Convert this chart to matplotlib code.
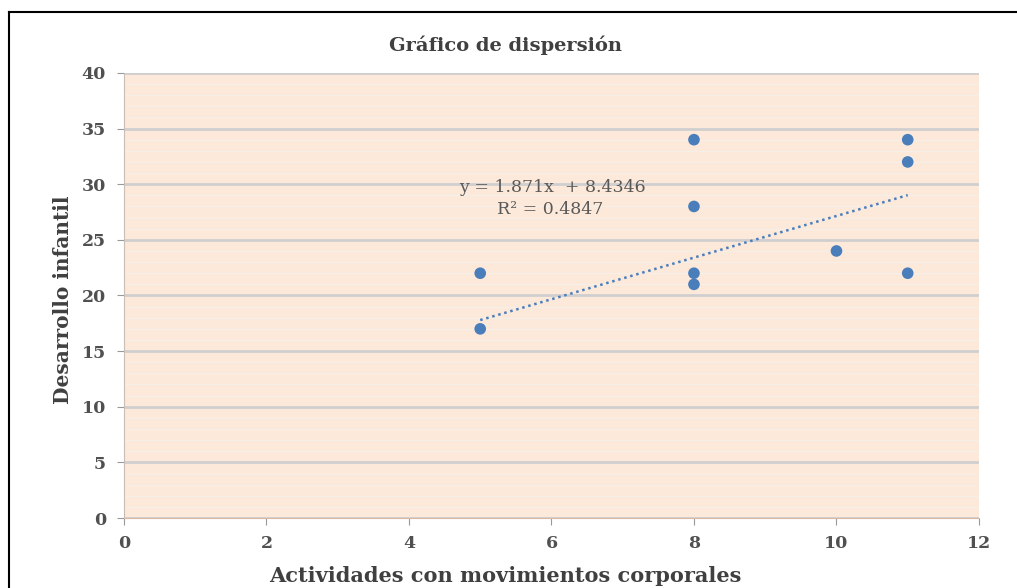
import numpy as np
import matplotlib.pyplot as plt
from matplotlib.lines import Line2D
from matplotlib.ticker import MultipleLocator

# data
actividades = [5, 5, 8, 8, 8, 8, 10, 11, 11, 11]
desarrollo = [22, 17, 34, 28, 22, 21, 24, 34, 32, 22]
pendiente = 1.871
intercepto = 8.4346
r2 = 0.4847
x_ticks = [0, 2, 4, 6, 8, 10, 12]
y_ticks = [0, 5, 10, 15, 20, 25, 30, 35, 40]

plt.rcParams['font.family'] = ['DejaVu Serif']

fig = plt.figure(figsize=(10.17, 5.88), dpi=100)
ax = fig.add_axes([0.1219, 0.119, 0.8407, 0.757])

ax.set_facecolor('#fde9d9')
ax.set_xlim(0, 12)
ax.set_ylim(0, 40)
ax.set_xticks(x_ticks)
ax.set_yticks(y_ticks)
ax.yaxis.set_minor_locator(MultipleLocator(1))
ax.grid(True, which='major', axis='y', color='#cfcfcf', linewidth=2)
ax.grid(True, which='minor', axis='y', color='#f6efe8', linewidth=1)
ax.set_axisbelow(True)

for s in ['top', 'right']:
    ax.spines[s].set_visible(False)
ax.spines['left'].set_color('#c9bdb5')
ax.spines['bottom'].set_color('#d9b8a8')
ax.tick_params(axis='both', which='major', colors='#999999', length=5,
               labelsize=12.5, labelcolor='#505050')
ax.tick_params(axis='x', which='major', pad=7)
ax.tick_params(axis='y', which='major', pad=8)
ax.tick_params(axis='y', which='minor', length=0)
for lbl in ax.get_xticklabels() + ax.get_yticklabels():
    lbl.set_fontweight('bold')

# trend line
xt = np.array([min(actividades), max(actividades)])
ax.plot(xt, pendiente * xt + intercepto, linestyle=(0, (1, 1.5)),
        color='#4a7ebb', linewidth=1.8)

ax.scatter(actividades, desarrollo, s=70, color='#4a7ebb', zorder=3,
           edgecolors='none')

ax.text(4.70, 29.66, f"y = {pendiente}x  + {intercepto}",
        fontsize=12.5, color='#595959', ha='left', va='center')
ax.text(5.24, 27.7, f"R² = {r2}",
        fontsize=12.5, color='#595959', ha='left', va='center')

fig.text(0.497, 0.923, "Gráfico de dispersión", fontsize=14,
         fontweight='bold', color='#404040', ha='center', va='center')
fig.text(0.497, 0.020, "Actividades con movimientos corporales", fontsize=15,
         fontweight='bold', color='#404040', ha='center', va='center')
fig.text(0.062, 0.49, "Desarrollo infantil", fontsize=14.5,
         fontweight='bold', color='#404040', ha='center', va='center',
         rotation=90)

# outer border (left and top only visible)
fig.add_artist(Line2D([8.5 / 1017, 8.5 / 1017], [0, 1 - 11.5 / 588],
                      color='black', linewidth=1.5, transform=fig.transFigure))
fig.add_artist(Line2D([8.5 / 1017, 1], [1 - 11.5 / 588, 1 - 11.5 / 588],
                      color='black', linewidth=1.5, transform=fig.transFigure))

fig.savefig('out.png', dpi=100)
